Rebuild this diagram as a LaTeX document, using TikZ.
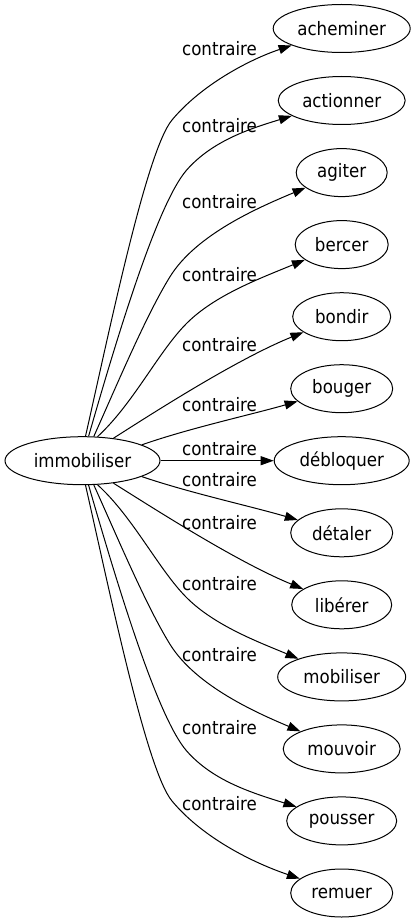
\documentclass[tikz,border=0pt]{standalone}
\usepackage{fontspec}
\setmainfont{DejaVu Sans Condensed}
\usetikzlibrary{arrows.meta,shapes.geometric}
\begin{document}
\begin{tikzpicture}[x=1pt,y=-1pt,
  word/.style={draw, ellipse, line width=1pt, inner sep=0pt, minimum height=48pt, font=\fontsize{18.5}{22}\selectfont},
  lab/.style={anchor=base, inner sep=0pt, font=\fontsize{18.5}{22}\selectfont},
  rel/.style={draw, line width=1pt, -{Triangle[length=13pt,width=9pt]}}]
\useasboundingbox (0,0) rectangle (416,923);

\node[word, minimum width=155pt] (im) at (82.5,460.7) {immobiliser};
\node[word, minimum width=137pt] (ach) at (341.7,28.5) {acheminer};
\node[word, minimum width=127pt] (act) at (341.7,100.5) {actionner};
\node[word, minimum width=91pt] (agi) at (341.7,172.6) {agiter};
\node[word, minimum width=93pt] (ber) at (341.7,244.6) {bercer};
\node[word, minimum width=98pt] (bon) at (341.7,316.7) {bondir};
\node[word, minimum width=102pt] (bou) at (341.7,388.7) {bouger};
\node[word, minimum width=135pt] (deb) at (341.7,460.7) {débloquer};
\node[word, minimum width=102pt] (det) at (341.7,532.8) {détaler};
\node[word, minimum width=100pt] (lib) at (341.7,604.8) {libérer};
\node[word, minimum width=128pt] (mob) at (341.7,676.9) {mobiliser};
\node[word, minimum width=117pt] (mou) at (341.7,748.9) {mouvoir};
\node[word, minimum width=110pt] (pou) at (341.7,820.9) {pousser};
\node[word, minimum width=102pt] (rem) at (341.7,893) {remuer};

\node[lab] (l0) at (219.5,56) {contraire};
\node[lab] (l1) at (219.5,132.5) {contraire};
\node[lab] (l2) at (219.5,208.5) {contraire};
\node[lab] (l3) at (219.5,281.6) {contraire};
\node[lab] (l4) at (219.5,351) {contraire};
\node[lab] (l5) at (219.5,411.6) {contraire};
\node[lab] (l6) at (219.5,455.5) {contraire};
\node[lab] (l7) at (219.5,486) {contraire};
\node[lab] (l8) at (219.5,529.3) {contraire};
\node[lab] (l9) at (219.5,590.7) {contraire};
\node[lab] (l10) at (219.5,661) {contraire};
\node[lab] (l11) at (219.5,734.3) {contraire};
\node[lab] (l12) at (219.5,810.5) {contraire};

% upper edges
\draw[rel] (im.83.9) .. controls (109.6,330) and (146.4,150.8) .. (172,120) .. controls (200.8,85.4) and (248.2,60) .. (ach);
\draw[rel] (im.76.7) .. controls (116,341) and (157,203.8) .. (186.7,170) .. controls (213.1,140) and (252.2,128.1) .. (act);
\draw[rel] (im.65.1) .. controls (117.9,382.6) and (146.3,315) .. (170,276.7) .. controls (196.3,234.2) and (259.1,207.2) .. (agi);
\draw[rel] (im.58.4) .. controls (133.5,403.5) and (158.4,351.6) .. (186.7,323.3) .. controls (215,295) and (260.3,278.3) .. (ber);
\draw[rel] (im.36.7) .. controls (150,415) and (235,360) .. (bon);
\draw[rel] (im.15.4) .. controls (190,428) and (250,415) .. (bou);
% middle
\draw[rel] (im) -- (deb);
% lower edges
\draw[rel] (im.-15.4) .. controls (190,493) and (250,506) .. (det);
\draw[rel] (im.-36.7) .. controls (150,506) and (235,561) .. (lib);
\draw[rel] (im.-58.4) .. controls (133.5,517.5) and (158.4,569.4) .. (186.7,597.7) .. controls (215,626) and (260.3,642.7) .. (mob);
\draw[rel] (im.-65.1) .. controls (117.9,538.4) and (146.3,606) .. (170,644.3) .. controls (196.3,686.8) and (259.1,713.8) .. (mou);
\draw[rel] (im.-76.7) .. controls (116,580) and (157,717.2) .. (186.7,751) .. controls (213.1,781) and (252.2,792.9) .. (pou);
\draw[rel] (im.-83.9) .. controls (109.6,591) and (146.4,770.2) .. (172,801) .. controls (200.8,835.6) and (248.2,861) .. (rem);
\end{tikzpicture}
\end{document}
